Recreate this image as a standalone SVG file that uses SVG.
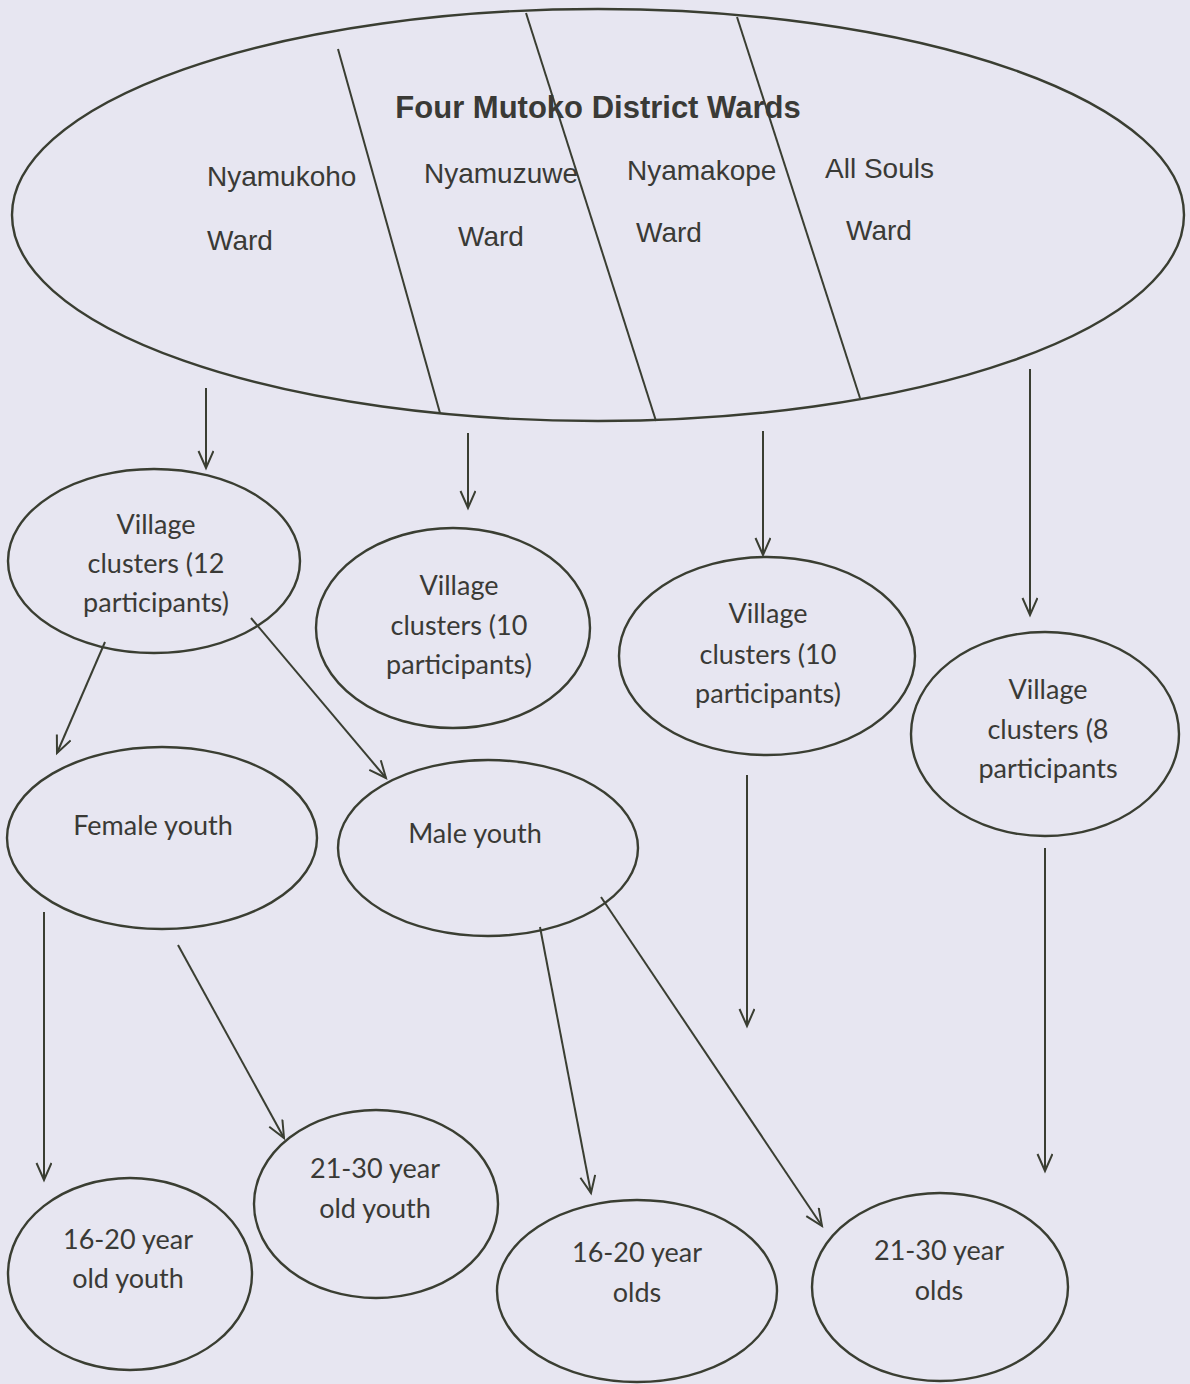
<svg xmlns="http://www.w3.org/2000/svg" width="1190" height="1384" viewBox="0 0 1190 1384">
<style>
.bg{fill:#e7e6f1}
.n{fill:none;stroke:#3a3e32;stroke-width:2.4}
.ln{fill:none;stroke:#3a3e32;stroke-width:2}
.ttl{font-family:"Liberation Sans",Arial,sans-serif;font-weight:bold;font-size:31px;fill:#3a3a36;text-anchor:middle}
.w{font-family:"Liberation Sans",Arial,sans-serif;font-size:28px;fill:#3a3a36}
.t{font-family:Lato,"Open Sans",sans-serif;font-size:27px;fill:#3a3a36;text-anchor:middle}
</style>
<defs>
<marker id="ah" markerUnits="userSpaceOnUse" markerWidth="22" markerHeight="20" refX="18" refY="8" orient="auto">
<path d="M1,0.5 L18,8 L1,15.5" fill="none" stroke="#3a3e32" stroke-width="2"/>
</marker>
</defs>
<rect class="bg" x="0" y="0" width="1190" height="1384"/>

<g id="wards">
<ellipse class="n" cx="598" cy="215" rx="586" ry="206"/>
<line class="ln" x1="338" y1="49" x2="440" y2="413"/>
<line class="ln" x1="526" y1="13" x2="656" y2="421"/>
<line class="ln" x1="737" y1="17" x2="860" y2="398"/>
<text class="ttl" x="598" y="118">Four Mutoko District Wards</text>
<text class="w" x="207" y="186">Nyamukoho</text>
<text class="w" x="207" y="250">Ward</text>
<text class="w" x="424" y="183">Nyamuzuwe</text>
<text class="w" x="458" y="246">Ward</text>
<text class="w" x="627" y="180">Nyamakope</text>
<text class="w" x="636" y="242">Ward</text>
<text class="w" x="825" y="178">All Souls</text>
<text class="w" x="846" y="240">Ward</text>
</g>

<g id="village12">
<ellipse class="n" cx="154" cy="561" rx="146" ry="92"/>
<text class="t" x="156" y="534">Village</text>
<text class="t" x="156" y="573">clusters (12</text>
<text class="t" x="156" y="612">participants)</text>
</g>

<g id="village10a">
<ellipse class="n" cx="453" cy="628" rx="137" ry="100"/>
<text class="t" x="459" y="595">Village</text>
<text class="t" x="459" y="635">clusters (10</text>
<text class="t" x="459" y="674">participants)</text>
</g>

<g id="village10b">
<ellipse class="n" cx="767" cy="656" rx="148" ry="99"/>
<text class="t" x="768" y="623">Village</text>
<text class="t" x="768" y="664">clusters (10</text>
<text class="t" x="768" y="703">participants)</text>
</g>

<g id="village8">
<ellipse class="n" cx="1045" cy="734" rx="134" ry="102"/>
<text class="t" x="1048" y="699">Village</text>
<text class="t" x="1048" y="739">clusters (8</text>
<text class="t" x="1048" y="778">participants</text>
</g>

<g id="female">
<ellipse class="n" cx="162" cy="838" rx="155" ry="91"/>
<text class="t" x="153" y="835">Female youth</text>
</g>

<g id="male">
<ellipse class="n" cx="488" cy="848" rx="150" ry="88"/>
<text class="t" x="475" y="843">Male youth</text>
</g>

<g id="f1620">
<ellipse class="n" cx="130" cy="1274" rx="122" ry="96"/>
<text class="t" x="128" y="1249">16-20 year</text>
<text class="t" x="128" y="1288">old youth</text>
</g>

<g id="f2130">
<ellipse class="n" cx="376" cy="1204" rx="122" ry="94"/>
<text class="t" x="375" y="1178">21-30 year</text>
<text class="t" x="375" y="1218">old youth</text>
</g>

<g id="m1620">
<ellipse class="n" cx="637" cy="1291" rx="140" ry="91"/>
<text class="t" x="637" y="1262">16-20 year</text>
<text class="t" x="637" y="1302">olds</text>
</g>

<g id="m2130">
<ellipse class="n" cx="940" cy="1287" rx="128" ry="94"/>
<text class="t" x="939" y="1260">21-30 year</text>
<text class="t" x="939" y="1300">olds</text>
</g>

<g id="connectors" class="ln" marker-end="url(#ah)">
<line x1="206" y1="388" x2="206" y2="468"/>
<line x1="468" y1="433" x2="468" y2="508"/>
<line x1="763" y1="431" x2="763" y2="555"/>
<line x1="1030" y1="369" x2="1030" y2="615"/>
<line x1="105" y1="642" x2="57" y2="753"/>
<line x1="251" y1="618" x2="386" y2="778"/>
<line x1="747" y1="775" x2="747" y2="1026"/>
<line x1="1045" y1="848" x2="1045" y2="1171"/>
<line x1="44" y1="912" x2="44" y2="1180"/>
<line x1="178" y1="945" x2="284" y2="1138"/>
<line x1="540" y1="927" x2="591" y2="1193"/>
<line x1="601" y1="897" x2="822" y2="1226"/>
</g>
</svg>
